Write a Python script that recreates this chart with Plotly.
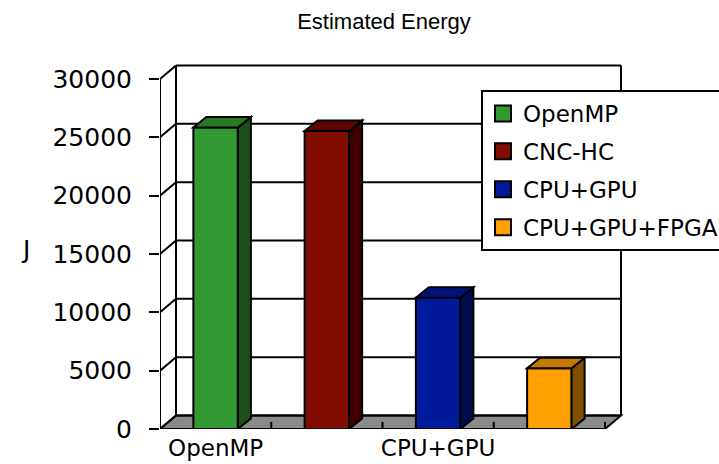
import plotly.graph_objects as go

# ---- data -----------------------------------------------------------------
categories = ["OpenMP", "CNC-HC", "CPU+GPU", "CPU+GPU+FPGA"]
energy_j = [25850, 25550, 11250, 5200]
y_ticks = [0, 5000, 10000, 15000, 20000, 25000, 30000]
x_tick_labels = categories[::2]          # every other category is labelled

# ---- styling --------------------------------------------------------------
front_colors = ["#339933", "#800d00", "#001a99", "#ff9f00"]
side_colors = ["#1b4f1b", "#3f0000", "#000c50", "#7f5000"]
top_colors = ["#267a26", "#5c0800", "#00137a", "#c47a00"]
FONT = "DejaVu Sans"
W, H = 719, 464
M_L, M_R, M_T, M_B = 160, 0, 58, 35
PLOT_W, PLOT_H = W - M_L - M_R, H - M_T - M_B
Y_MAX = 31800
PX_PER_CAT = 111.25
LW = 2

n = len(categories)
x_lo = -0.5
x_end = x_lo + n
x_hi = x_lo + PLOT_W / PX_PER_CAT
px_per_val = PLOT_H / Y_MAX

# oblique depth offsets (pixels converted into data units)
wall_dx = 16 / PX_PER_CAT
wall_dy = 13.5 / px_per_val
bar_dx = 13 / PX_PER_CAT
bar_dy = 10.5 / px_per_val
bar_w = 0.4
tick_h = 7 / px_per_val
top_val = y_ticks[-1]


def paper_x(px):
    return (px - M_L) / PLOT_W


def paper_y(py):
    return (H - M_B - py) / PLOT_H


fig = go.Figure()

# front faces of the columns
for i, (cat, val) in enumerate(zip(categories, energy_j)):
    fig.add_trace(go.Bar(
        x=[i], y=[val], width=bar_w, name=cat, showlegend=False,
        marker=dict(color=front_colors[i], line=dict(color="black", width=LW)),
        hoverinfo="skip",
    ))

# legend entries
for i, cat in enumerate(categories):
    fig.add_trace(go.Scatter(
        x=[None], y=[None], mode="markers", name=cat, legendgroup=cat,
        marker=dict(symbol="square", size=16, color=front_colors[i],
                    line=dict(color="black", width=LW)),
    ))

shapes = []


def poly(pts, fill, layer):
    path = "M " + " L ".join(f"{x},{y}" for x, y in pts) + " Z"
    return dict(type="path", path=path, xref="x", yref="y", layer=layer,
                fillcolor=fill, line=dict(color="black", width=LW))


def seg(x0, y0, x1, y1, layer="below"):
    return dict(type="line", x0=x0, y0=y0, x1=x1, y1=y1, xref="x", yref="y",
                layer=layer, line=dict(color="black", width=LW))


# floor
shapes.append(poly([(x_lo, 0), (x_end, 0), (x_end + wall_dx, wall_dy),
                    (x_lo + wall_dx, wall_dy)], "#8a8a8a", "below"))
# back wall gridlines and the connectors to the front value axis
for t in y_ticks:
    shapes.append(seg(x_lo + wall_dx, t + wall_dy, x_end + wall_dx, t + wall_dy))
    shapes.append(seg(x_lo, t, x_lo + wall_dx, t + wall_dy))
# wall edges and front value axis
shapes.append(seg(x_lo + wall_dx, wall_dy, x_lo + wall_dx, top_val + wall_dy))
shapes.append(seg(x_end + wall_dx, wall_dy, x_end + wall_dx, top_val + wall_dy))
shapes.append(seg(x_lo, 0, x_lo, top_val))
# category ticks on the floor edge
for k in range(1, n + 1):
    shapes.append(seg(x_lo + k, 0, x_lo + k, tick_h))

# side and top faces of the columns
for i, val in enumerate(energy_j):
    xl, xr = i - bar_w / 2, i + bar_w / 2
    shapes.append(poly([(xr, 0), (xr + bar_dx, bar_dy), (xr + bar_dx, val + bar_dy),
                        (xr, val)], side_colors[i], "above"))
    shapes.append(poly([(xl, val), (xr, val), (xr + bar_dx, val + bar_dy),
                        (xl + bar_dx, val + bar_dy)], top_colors[i], "above"))

fig.update_layout(
    width=W, height=H,
    margin=dict(l=M_L, r=M_R, t=M_T, b=M_B, pad=0, autoexpand=False),
    paper_bgcolor="white", plot_bgcolor="white",
    font=dict(family=FONT, color="black"),
    shapes=shapes,
    showlegend=True,
    title=dict(text="Estimated Energy", x=384 / W, xanchor="center",
               y=1 - 21 / H, yanchor="middle",
               font=dict(size=22, family="Liberation Sans")),
    xaxis=dict(range=[x_lo, x_hi], showgrid=False, zeroline=False, showline=False,
               tickvals=list(range(0, n, 2)), ticktext=x_tick_labels, ticks="",
               ticklabelstandoff=3,
               tickfont=dict(size=23, family=FONT), fixedrange=True),
    yaxis=dict(range=[0, Y_MAX], showgrid=False, zeroline=False, showline=False,
               tickvals=y_ticks, tickformat="d", ticks="outside", ticklen=10,
               tickwidth=LW, tickcolor="black", ticklabelstandoff=12,
               tickfont=dict(size=25, family=FONT), fixedrange=True),
    legend=dict(x=paper_x(481), y=paper_y(90),
                xanchor="left", yanchor="top", bgcolor="white",
                bordercolor="black", borderwidth=LW,
                font=dict(size=23, family=FONT), tracegroupgap=5),
    annotations=[dict(text="J", x=paper_x(25), y=paper_y(250), xref="paper",
                      yref="paper", xanchor="center", yanchor="middle",
                      showarrow=False, font=dict(size=25, family=FONT))],
)

fig.write_html("out.html")
